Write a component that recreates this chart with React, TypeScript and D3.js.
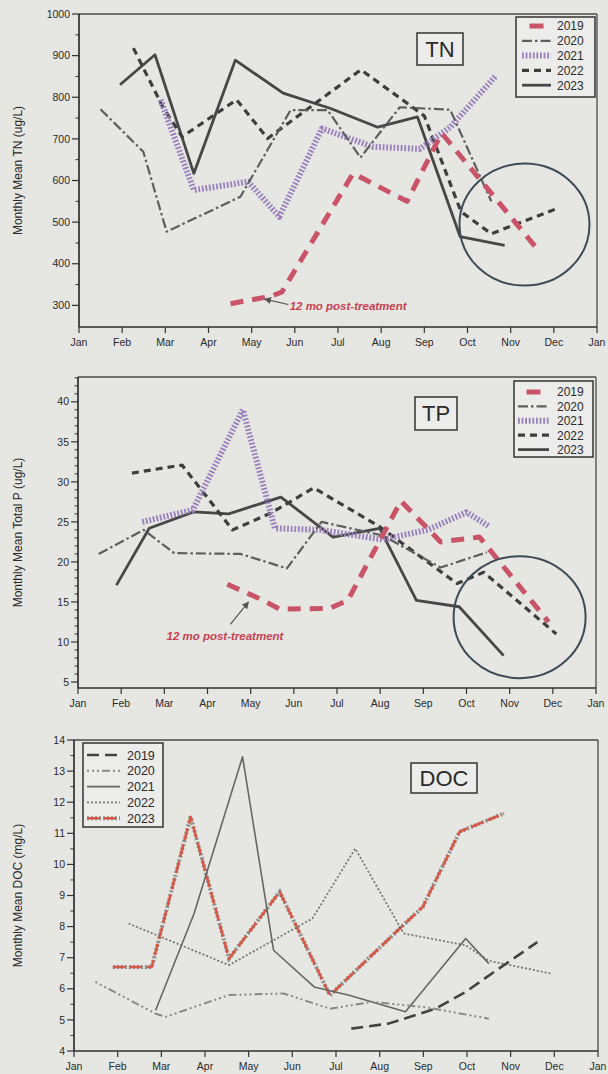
import React from 'react';
import * as d3 from 'd3';

type Pt = [number, number];

// month position (0 = Jan 1, 12 = next Jan 1), value
const MONTH_LABELS = ['Jan', 'Feb', 'Mar', 'Apr', 'May', 'Jun', 'Jul', 'Aug', 'Sep', 'Oct', 'Nov', 'Dec', 'Jan'];
const YEARS = ['2019', '2020', '2021', '2022', '2023'];

// TN (ug/L)
const tn2019: Pt[] = [[3.51, 304], [4.45, 322], [4.7, 332], [6.35, 617], [7.6, 550], [8.4, 714], [10.69, 426]];
const tn2020: Pt[] = [[0.5, 771], [1.49, 669], [2.03, 477], [3.74, 561], [4.9, 769], [5.76, 769], [6.52, 655], [7.43, 776], [8.6, 770], [9.55, 550]];
const tn2021: Pt[] = [[1.89, 794], [2.66, 577], [3.92, 597], [4.64, 513], [5.63, 725], [6.8, 681], [7.9, 676], [8.6, 728], [9.67, 853]];
const tn2022: Pt[] = [[1.26, 918], [1.94, 777], [2.39, 705], [3.65, 794], [4.37, 701], [6.53, 866], [7.73, 776], [8.0, 755], [8.85, 525], [9.55, 472], [11.08, 533]];
const tn2023: Pt[] = [[0.95, 830], [1.76, 902], [2.66, 617], [3.62, 889], [4.73, 810], [5.83, 773], [6.92, 728], [7.84, 753], [8.83, 465], [9.86, 444]];

// TP (ug/L)
const tp2019: Pt[] = [[3.46, 17.2], [4.25, 15.3], [4.67, 14.1], [5.83, 14.2], [6.25, 15.2], [7.48, 27.6], [8.4, 22.5], [9.3, 23.1], [10.9, 12.5]];
const tp2020: Pt[] = [[0.48, 21], [1.52, 24], [2.23, 21.1], [3.76, 21], [4.84, 19.2], [5.64, 25], [7.06, 23.3], [8.4, 19.3], [9.47, 21.2]];
const tp2021: Pt[] = [[1.49, 25], [2.66, 26.5], [3.82, 39], [4.56, 24.2], [5.6, 24], [7.06, 22.8], [8.1, 24], [9.0, 26.2], [9.54, 24.4]];
const tp2022: Pt[] = [[1.25, 31.1], [2.41, 32.1], [3.58, 24], [4.47, 26.1], [5.46, 29.25], [6.99, 24.4], [8.78, 17.3], [9.4, 18.7], [11.08, 11]];
const tp2023: Pt[] = [[0.89, 17.1], [1.65, 24.2], [2.68, 26.25], [3.49, 26], [4.7, 28.1], [5.91, 23.1], [6.99, 24.2], [7.84, 15.2], [8.83, 14.4], [9.86, 8.3]];

// DOC (mg/L)
const doc2019: Pt[] = [[6.35, 4.72], [7.2, 4.88], [8.28, 5.36], [8.97, 5.9], [9.68, 6.6], [10.61, 7.5]];
const doc2020: Pt[] = [[0.49, 6.22], [1.87, 5.2], [2.1, 5.1], [3.55, 5.8], [4.8, 5.85], [5.86, 5.36], [6.84, 5.58], [8.08, 5.4], [9.5, 5.04]];
const doc2021: Pt[] = [[1.87, 5.31], [2.75, 8.42], [3.86, 13.46], [4.57, 7.24], [5.5, 6.06], [6.3, 5.79], [7.59, 5.26], [8.97, 7.62], [9.5, 6.81]];
const doc2022: Pt[] = [[1.25, 8.1], [3.55, 6.76], [5.46, 8.26], [6.44, 10.51], [7.55, 7.78], [8.97, 7.4], [9.5, 6.9], [10.2, 6.7], [10.92, 6.49]];
const doc2023: Pt[] = [[0.89, 6.7], [1.78, 6.7], [2.67, 11.53], [3.55, 6.97], [4.71, 9.12], [5.86, 5.79], [7.46, 7.94], [7.99, 8.64], [8.83, 11.05], [9.85, 11.64]];

const FONT = 'Liberation Sans, Arial, sans-serif';
const RED = '#c95468';

interface Stroke { stroke: string; width: number; dash?: string }
interface Series { year: string; pts: Pt[]; style: Stroke; under?: Stroke; shortKey?: boolean }

const nutrientStyles: Stroke[] = [
  { stroke: RED, width: 5, dash: '13,9' },
  { stroke: '#5e5e5e', width: 2.2, dash: '10,3,2.5,3' },
  { stroke: '#9a80bd', width: 6, dash: '1.8,1.8' },
  { stroke: '#3e3e3e', width: 3.2, dash: '7,5' },
  { stroke: '#474747', width: 2.8 },
];

const docStyles: Stroke[] = [
  { stroke: '#434343', width: 2.6, dash: '12,6' },
  { stroke: '#888', width: 2, dash: '2,3,2,3,2,3,8,3' },
  { stroke: '#666', width: 1.6 },
  { stroke: '#777', width: 1.8, dash: '2,2' },
  { stroke: '#d65a45', width: 2.6, dash: '12,5' },
];

const tnSeries: Series[] = [tn2019, tn2020, tn2021, tn2022, tn2023].map((pts, i) => ({
  year: YEARS[i], pts, style: nutrientStyles[i], shortKey: i === 0,
}));
const tpSeries: Series[] = [tp2019, tp2020, tp2021, tp2022, tp2023].map((pts, i) => ({
  year: YEARS[i], pts, style: nutrientStyles[i], shortKey: i === 0,
}));
const docSeries: Series[] = [doc2019, doc2020, doc2021, doc2022, doc2023].map((pts, i) => ({
  year: YEARS[i], pts, style: docStyles[i],
  under: i === 4 ? { stroke: '#8c8c8c', width: 4, dash: '2,2' } : undefined,
}));

interface PanelCfg {
  left: number; right: number; top: number; bottom: number;
  yDomain: [number, number];
  major: [number, number, number];
  minorStep: number;
  yLabel: string;
  title: { text: string; x: number; y: number; w: number; h: number };
  legend: { x: number; y: number; w: number; h: number; row0: number; dy: number; s1: number; s2: number; tx: number; font: number };
  series: Series[];
  circle?: { m: number; v: number; rx: number; ry: number };
  note?: { tm: number; tv: number; am: number; av: number; tipM: number; tipV: number };
}

const panels: PanelCfg[] = [
  {
    left: 79, right: 597, top: 14, bottom: 327, yDomain: [248, 1000], major: [300, 1000, 100], minorStep: 50,
    yLabel: 'Monthly Mean TN (ug/L)',
    title: { text: 'TN', x: 417, y: 33, w: 46, h: 32 },
    legend: { x: 516, y: 17, w: 79, h: 80, row0: 26, dy: 14.8, s1: 522, s2: 551, tx: 557, font: 12 },
    series: tnSeries,
    circle: { m: 10.32, v: 494, rx: 65, ry: 61 },
    note: { tm: 4.88, tv: 290, am: 4.85, av: 302, tipM: 4.3, tipV: 315 },
  },
  {
    left: 78, right: 596, top: 377, bottom: 688, yDomain: [4.25, 43.1], major: [5, 40, 5], minorStep: 1,
    yLabel: 'Monthly Mean Total P (ug/L)',
    title: { text: 'TP', x: 415, y: 397, w: 42, h: 33 },
    legend: { x: 514, y: 381, w: 79, h: 76, row0: 392, dy: 14.4, s1: 518, s2: 549, tx: 557, font: 12 },
    series: tpSeries,
    circle: { m: 10.23, v: 13.1, rx: 66, ry: 61 },
    note: { tm: 2.05, tv: 10.2, am: 3.53, av: 12.2, tipM: 3.95, tipV: 15.0 },
  },
  {
    left: 74, right: 598, top: 740, bottom: 1051, yDomain: [4, 14], major: [4, 14, 1], minorStep: 0.5,
    yLabel: 'Monthly Mean DOC (mg/L)',
    title: { text: 'DOC', x: 411, y: 763, w: 66, h: 30 },
    legend: { x: 83, y: 743, w: 80, h: 84, row0: 755, dy: 15.8, s1: 87, s2: 120, tx: 127, font: 12.5 },
    series: docSeries,
  },
];

function Panel({ cfg }: { cfg: PanelCfg }) {
  const x = d3.scaleLinear().domain([0, 12]).range([cfg.left, cfg.right]);
  const y = d3.scaleLinear().domain(cfg.yDomain).range([cfg.bottom, cfg.top]);
  const line = d3.line<Pt>().x(d => x(d[0])).y(d => y(d[1]));
  const [m0, m1, step] = cfg.major;
  const majors = d3.range(m0, m1 + step / 2, step);
  const minors = d3.range(Math.ceil(cfg.yDomain[0] / cfg.minorStep) * cfg.minorStep, cfg.yDomain[1], cfg.minorStep)
    .filter(v => !majors.some(m => Math.abs(m - v) < 1e-6) && y(v) < cfg.bottom - 2);
  const lg = cfg.legend;
  const drawOrder = [...cfg.series].reverse();

  return (
    <g>
      {/* frame */}
      <line x1={cfg.left} x2={cfg.right} y1={cfg.top} y2={cfg.top} stroke="#4a4a4a" strokeWidth={1.3} />
      <line x1={cfg.right} x2={cfg.right} y1={cfg.top} y2={cfg.bottom} stroke="#4a4a4a" strokeWidth={1.3} />
      <line x1={cfg.left} x2={cfg.right} y1={cfg.bottom} y2={cfg.bottom} stroke="#2e2e2e" strokeWidth={1.7} />
      <line x1={cfg.left} x2={cfg.left} y1={cfg.top} y2={cfg.bottom} stroke="#2e2e2e" strokeWidth={1.7} />

      {/* y ticks */}
      {minors.map(v => (
        <line key={'mn' + v} x1={cfg.left - 3.5} x2={cfg.left} y1={y(v)} y2={y(v)} stroke="#333" strokeWidth={1} />
      ))}
      {majors.map(v => (
        <g key={'mj' + v}>
          <line x1={cfg.left - 7} x2={cfg.left} y1={y(v)} y2={y(v)} stroke="#333" strokeWidth={1.2} />
          <text x={cfg.left - 9} y={y(v)} dy="0.35em" textAnchor="end" fontSize={10.5} fill="#2a2a2a" fontFamily={FONT}>{v}</text>
        </g>
      ))}

      {/* x ticks */}
      {MONTH_LABELS.map((lab, i) => (
        <g key={'m' + i}>
          <line x1={x(i)} x2={x(i)} y1={cfg.bottom} y2={cfg.bottom + 6} stroke="#333" strokeWidth={1.2} />
          <text x={x(i)} y={cfg.bottom + 15} dy="0.35em" textAnchor="middle" fontSize={10.5} fill="#2a2a2a" fontFamily={FONT}>{lab}</text>
        </g>
      ))}

      {/* y label */}
      <text transform={`translate(18,${(cfg.top + cfg.bottom) / 2}) rotate(-90)`} textAnchor="middle" dy="0.35em"
        fontSize={12} fill="#2a2a2a" fontFamily={FONT}>{cfg.yLabel}</text>

      {/* series */}
      {drawOrder.map(s => (
        <g key={s.year}>
          {s.under && (
            <path d={line(s.pts) || ''} fill="none" stroke={s.under.stroke} strokeWidth={s.under.width}
              strokeDasharray={s.under.dash} />
          )}
          <path d={line(s.pts) || ''} fill="none" stroke={s.style.stroke} strokeWidth={s.style.width}
            strokeDasharray={s.style.dash} strokeLinejoin="round" />
        </g>
      ))}

      {cfg.circle && (
        <ellipse cx={x(cfg.circle.m)} cy={y(cfg.circle.v)} rx={cfg.circle.rx} ry={cfg.circle.ry}
          fill="none" stroke="#3f4b54" strokeWidth={2} />
      )}

      {cfg.note && (
        <g>
          <line x1={x(cfg.note.am)} y1={y(cfg.note.av)} x2={x(cfg.note.tipM)} y2={y(cfg.note.tipV)}
            stroke="#555" strokeWidth={1.2} markerEnd="url(#arrow)" />
          <text x={x(cfg.note.tm)} y={y(cfg.note.tv)} fontSize={11.5} fontWeight="bold" fontStyle="italic"
            fill="#c8404f" fontFamily={FONT}>12 mo post-treatment</text>
        </g>
      )}

      {/* title box */}
      <rect x={cfg.title.x} y={cfg.title.y} width={cfg.title.w} height={cfg.title.h} fill="#ececea" stroke="#333" strokeWidth={1.5} />
      <text x={cfg.title.x + cfg.title.w / 2} y={cfg.title.y + cfg.title.h / 2} dy="0.36em" textAnchor="middle"
        fontSize={22} fill="#2a2a2a" fontFamily={FONT}>{cfg.title.text}</text>

      {/* legend */}
      <rect x={lg.x} y={lg.y} width={lg.w} height={lg.h} fill="#ececea" stroke="#333" strokeWidth={1.5} />
      {cfg.series.map((s, i) => {
        const ry = lg.row0 + i * lg.dy;
        const mid = (lg.s1 + lg.s2) / 2;
        const a = s.shortKey ? mid - 7 : lg.s1;
        const b = s.shortKey ? mid + 7 : lg.s2;
        return (
          <g key={'lg' + s.year}>
            {s.under && (
              <line x1={a} x2={b} y1={ry} y2={ry} stroke={s.under.stroke} strokeWidth={s.under.width} strokeDasharray={s.under.dash} />
            )}
            <line x1={a} x2={b} y1={ry} y2={ry} stroke={s.style.stroke} strokeWidth={s.style.width}
              strokeDasharray={s.shortKey ? undefined : s.style.dash} />
            <text x={lg.tx} y={ry} dy="0.36em" fontSize={lg.font} fill="#2a2a2a" fontFamily={FONT}>{s.year}</text>
          </g>
        );
      })}
    </g>
  );
}

export default function App() {
  return (
    <div style={{ position: 'absolute', left: 0, top: 0 }}>
      <svg width={608} height={1074} style={{ display: 'block' }}>
        <defs>
          <marker id="arrow" viewBox="0 0 10 10" refX="9" refY="5" markerWidth="6" markerHeight="6" orient="auto-start-reverse">
            <path d="M0,0 L10,5 L0,10 z" fill="#555" />
          </marker>
        </defs>
        <rect width={608} height={1074} fill="#e6e6e3" />
        {panels.map((p, i) => <Panel key={i} cfg={p} />)}
      </svg>
    </div>
  );
}
